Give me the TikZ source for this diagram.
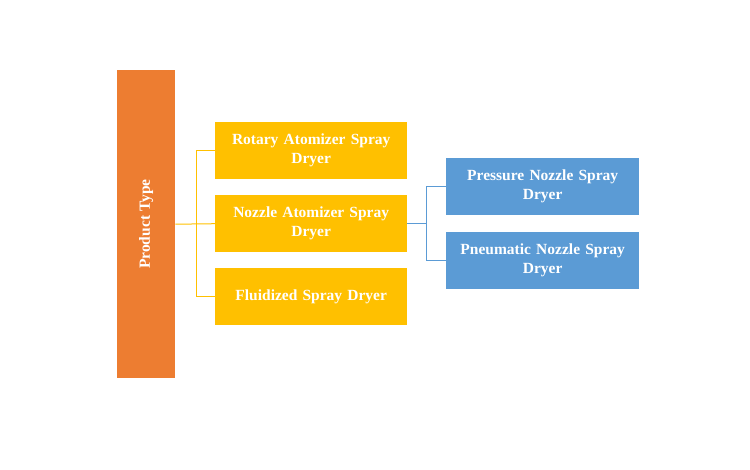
\documentclass[tikz,border=0pt]{standalone}
\usepackage{fontspec}
\setmainfont{Liberation Serif}
\definecolor{corange}{HTML}{ED7D31}
\definecolor{cyellow}{HTML}{FFC000}
\definecolor{cblue}{HTML}{5B9BD5}
\begin{document}
\begin{tikzpicture}[x=1pt,y=-1pt,
  boxbase/.style={anchor=north west,inner sep=0pt,align=center,text=white,
    font=\fontsize{15.5}{19}\selectfont\bfseries},
  ybox/.style={boxbase,fill=cyellow,minimum width=192pt,minimum height=57pt,text width=185pt},
  bbox/.style={boxbase,fill=cblue,minimum width=193pt,minimum height=57pt,text width=185pt},
  yline/.style={draw=cyellow,line width=1pt},
  bline/.style={draw=cblue,line width=1pt}]
\useasboundingbox (0,0) rectangle (750,469);
\node[boxbase,fill=corange,minimum width=58pt,minimum height=308pt] (pt) at (117,70) {};
\node[rotate=90,text=white,font=\fontsize{15.5}{19}\selectfont\bfseries] (ptl) at (pt.center) {Product Type};
\node[ybox] (r) at (215,122) {Rotary Atomizer Spray\\Dryer};
\node[ybox] (n) at (215,195) {Nozzle Atomizer Spray\\Dryer};
\node[ybox] (f) at (215,268) {Fluidized Spray Dryer};
\node[bbox] (p) at (446,158) {Pressure Nozzle Spray\\Dryer};
\node[bbox] (pn) at (446,232) {Pneumatic Nozzle Spray\\Dryer};
\coordinate (j1) at (196,0);
\coordinate (j2) at (426,0);
\draw[yline] (pt.east) -- (n.west);
\draw[yline] (r.west) -- (r.west -| j1) -- (f.west -| j1) -- (f.west);
\draw[bline] (n.east) -- (n.east -| j2);
\draw[bline] (p.west) -- (p.west -| j2) -- (pn.west -| j2) -- (pn.west);
\end{tikzpicture}
\end{document}
